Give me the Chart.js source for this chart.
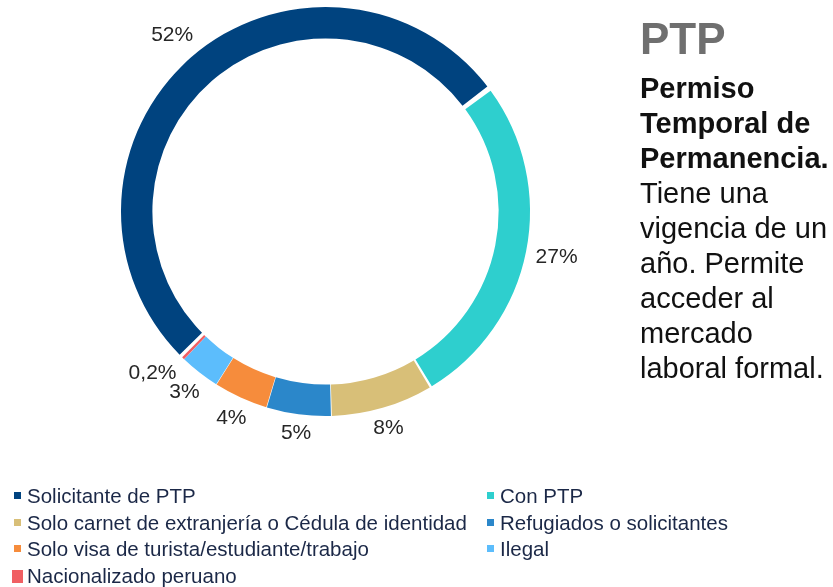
<!DOCTYPE html>
<html>
<head>
<meta charset="utf-8">
<script src="https://cdn.jsdelivr.net/npm/chart.js@4"></script>
<style>
  body { margin: 0; background: #fff; font-family: "Liberation Sans", Arial, sans-serif; }
  #wrap { position: relative; width: 833px; height: 587px; overflow: hidden; }
  #grafico { position: absolute; left: 0; top: 0; }
  #titulo { position: absolute; left: 640px; top: 17px; font-size: 44px; line-height: 44px; font-weight: bold; color: #6f6f6f; }
  #texto { position: absolute; left: 640px; top: 71px; font-size: 29px; line-height: 35px; color: #111; white-space: nowrap; }
  #leyenda { position: absolute; left: 0; top: 482px; width: 833px; }
  .item { position: absolute; font-size: 20.5px; line-height: 27px; color: #1b2847; white-space: nowrap; }
  .caja { position: absolute; }
</style>
</head>
<body>
<div id="wrap">
  <canvas id="grafico" width="833" height="587"></canvas>
  <div id="titulo">PTP</div>
  <div id="texto"><b>Permiso<br>Temporal de<br>Permanencia.</b><br>Tiene una<br>vigencia de un<br>año. Permite<br>acceder al<br>mercado<br>laboral formal.</div>
  <div id="leyenda"></div>
</div>
<script>
let categorias = [
    'Solicitante de PTP',
    'Con PTP',
    'Solo carnet de extranjería o Cédula de identidad',
    'Refugiados o solicitantes',
    'Solo visa de turista/estudiante/trabajo',
    'Ilegal',
    'Nacionalizado peruano'
];
let porcentajes = [52.4, 26.6, 8.1, 5.1, 4.3, 3.2, 0.2];
let colores = ['#00437f', '#2ecfce', '#d8bf78', '#2b87ca', '#f68c3c', '#5cbdfc', '#f05f63'];

function formatoPct(v){
    if(v < 1){
        return v.toFixed(1).replace('.', ',') + '%';
    }
    return Math.round(v) + '%';
}

function posEtiqueta(p, ang, mitadAncho, mitadAlto){
    let r = p.outerRadius + 11 + Math.abs(Math.cos(ang)) * mitadAncho + Math.abs(Math.sin(ang)) * mitadAlto;
    return { x: p.x + Math.cos(ang) * r, y: p.y + Math.sin(ang) * r, w: mitadAncho, h: mitadAlto };
}

function seTocan(a, b){
    // 3px de aire entre cajas
    return Math.abs(a.x - b.x) < a.w + b.w + 3 && Math.abs(a.y - b.y) < a.h + b.h + 3;
}

// etiquetas fuera del anillo (la caja del texto queda pegada al borde)
const etiquetasPlugin = {
    id: 'etiquetas',
    afterDatasetsDraw(chart){
        let ctx = chart.ctx;
        let meta = chart.getDatasetMeta(0);
        ctx.save();
        ctx.font = '21px "Liberation Sans", Arial, sans-serif';
        ctx.fillStyle = '#262626';
        ctx.textAlign = 'center';
        ctx.textBaseline = 'middle';
        let puestas = [];
        meta.data.forEach((arco, i) => {
            let p = arco.getProps(['x', 'y', 'startAngle', 'endAngle', 'outerRadius']);
            let medio = (p.startAngle + p.endAngle) / 2;
            let txt = formatoPct(porcentajes[i]);
            let mitadAncho = ctx.measureText(txt).width / 2;
            let pos = posEtiqueta(p, medio, mitadAncho, 8);
            // si choca con la anterior se corre un poco en sentido horario
            let intentos = 0;
            while(puestas.length && seTocan(pos, puestas[puestas.length - 1]) && intentos < 40){
                medio += 0.01;
                pos = posEtiqueta(p, medio, mitadAncho, 8);
                intentos++;
            }
            puestas.push(pos);
            ctx.fillText(txt, pos.x, pos.y);
        });
        ctx.restore();
    }
};

let ctx = document.getElementById('grafico');
let grafico = new Chart(ctx, {
    type: 'doughnut',
    data: {
        labels: categorias,
        datasets: [{
            data: porcentajes,
            backgroundColor: colores,
            borderWidth: 0,
            spacing: 4
        }]
    },
    options: {
        responsive: false,
        animation: false,
        cutout: '84.5%',
        rotation: 224.5,
        layout: { padding: { left: 121, top: 7, right: 303, bottom: 171 } },
        plugins: {
            legend: { display: false },
            tooltip: { enabled: false }
        }
    },
    plugins: [etiquetasPlugin]
});

// leyenda en dos columnas
let leyenda = document.getElementById('leyenda');
categorias.forEach((nombre, i) => {
    let col = i % 2;
    let fila = Math.floor(i / 2);
    let div = document.createElement('div');
    div.classList.add('item');
    div.style.left = (col === 0 ? 27 : 500) + 'px';
    div.style.top = (fila * 26.7) + 'px';
    div.textContent = nombre;
    let caja = document.createElement('span');
    caja.classList.add('caja');
    caja.style.background = colores[i];
    if(i === categorias.length - 1){
        caja.style.width = '11px';
        caja.style.height = '13px';
        caja.style.left = '-15px';
        caja.style.top = '8px';
    } else {
        caja.style.width = '7px';
        caja.style.height = '7px';
        caja.style.left = '-13px';
        caja.style.top = '10px';
    }
    div.appendChild(caja);
    leyenda.appendChild(div);
});
</script>
</body>
</html>
